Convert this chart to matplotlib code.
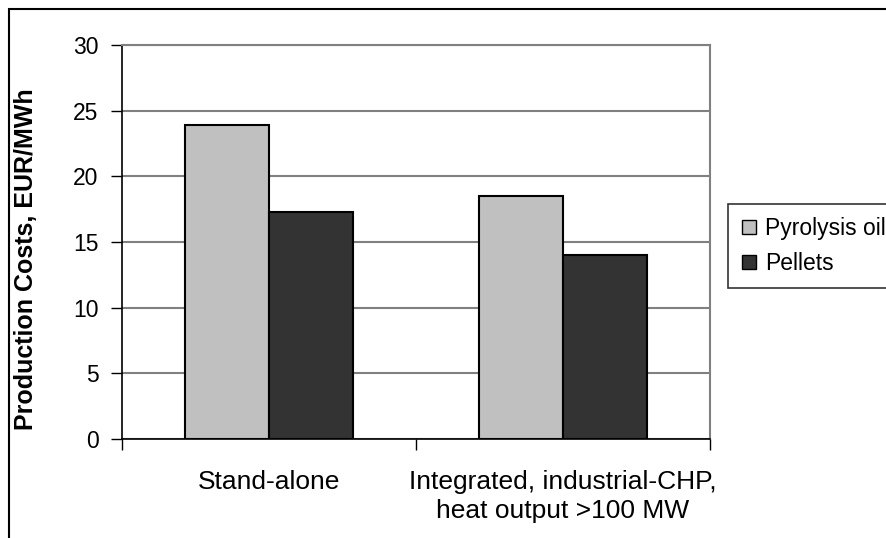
import numpy as np
import matplotlib.pyplot as plt
from matplotlib.patches import Rectangle
from matplotlib.lines import Line2D

plt.rcParams['font.family'] = ['Liberation Sans', 'DejaVu Sans']
plt.rcParams['font.size'] = 19

categories = ['Stand-alone', 'Integrated, industrial-CHP,\nheat output >100 MW']
series = ['Pyrolysis oil', 'Pellets']
pyrolysis = [23.9, 18.5]
pellets = [17.3, 14.0]
colors = ['#c0c0c0', '#333333']

W, H = 886, 538
fig = plt.figure(figsize=(W / 100, H / 100), dpi=100)
ax = fig.add_axes([122 / W, 1 - 439 / H, (710 - 122) / W, (439 - 45) / H])

x = np.arange(len(categories))
w = 0.2857
for i, (vals, c) in enumerate(zip([pyrolysis, pellets], colors)):
    ax.bar(x + (i - 0.5) * w, vals, width=w, color=c, edgecolor='black',
           linewidth=1.5, zorder=3)

ax.set_xlim(-0.5, len(categories) - 0.5)
ax.set_ylim(0, 30)
ax.set_yticks(range(0, 31, 5))
ax.yaxis.grid(True, color='#808080', linewidth=1.5, zorder=0)
ax.tick_params(axis='y', direction='out', length=8, width=1, pad=9,
               labelsize=16.5)

ax.set_xticks(x)
ax.set_xticklabels(categories, linespacing=1.3)
ax.set_xticks(np.arange(-0.5, len(categories), 1.0), minor=True)
ax.tick_params(axis='x', which='major', length=0, pad=22)
ax.tick_params(axis='x', which='minor', direction='out', length=8, width=1)

for side in ['left', 'bottom']:
    ax.spines[side].set_color('black')
    ax.spines[side].set_linewidth(1.2)
for side in ['top', 'right']:
    ax.spines[side].set_color('#808080')
    ax.spines[side].set_linewidth(1.5)

ax.set_ylabel('Production Costs, EUR/MWh', fontweight='bold', fontsize=18)
ax.yaxis.set_label_coords((38 - 122) / 588, (439 - 259) / 394)

handles = [Line2D([], [], linestyle='none', marker='s', markersize=10.5,
                  markerfacecolor=c, markeredgecolor='black', markeredgewidth=1)
           for c in colors]
leg = fig.legend(handles, series, loc='upper left',
                 bbox_to_anchor=(728 / W, 1 - 204 / H), frameon=True,
                 fancybox=False, edgecolor='black', borderaxespad=0,
                 fontsize=16.5, handlelength=0.7, handletextpad=0.35,
                 labelspacing=0.55, borderpad=0.55)
leg.get_frame().set_linewidth(1.2)

# outer chart border
fig.patches.append(Rectangle((9 / W, -0.1), 1.2, 1 - 9 / H + 0.1,
                             transform=fig.transFigure, fill=False,
                             edgecolor='black', linewidth=1.5))

fig.savefig('out.png', dpi=100)
